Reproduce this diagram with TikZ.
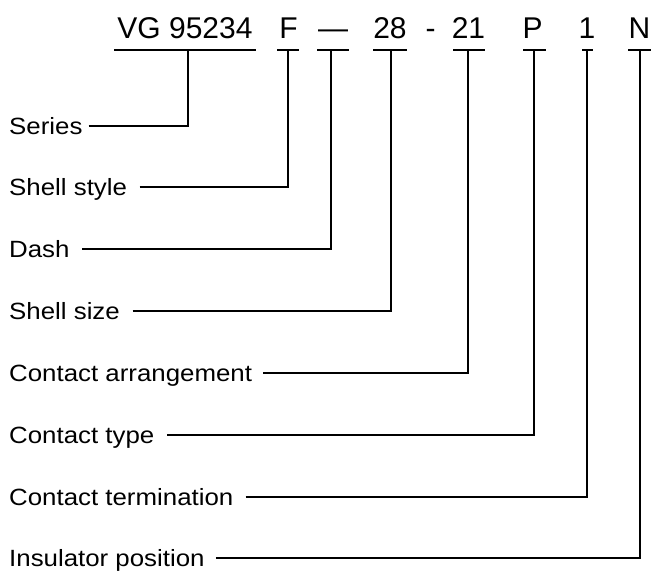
\documentclass[tikz,border=0pt]{standalone}
\usepackage{fontspec}
\setmainfont{Liberation Sans}
\newfontfamily\labfont[FakeStretch=1.1]{Liberation Sans}
\begin{document}
\begin{tikzpicture}[x=1pt,y=-1pt,
  conn/.style={line width=2pt},
  uline/.style={line width=2pt},
  lab/.style={anchor=west, inner sep=0pt, text height=16.8pt, text depth=0pt, font=\labfont\fontsize{23.5}{28}\selectfont},
  code/.style={anchor=base, inner sep=0pt, font=\fontsize{30}{36}\selectfont}]
\useasboundingbox (0,0) rectangle (651,571);
% code parts
\node[code] (vg)   at (185,38.5)   {VG 95234};
\node[code] (f)    at (288.5,38.5) {F};
\node[code] (dash) at (333,38.5)   {\textemdash};
\node[code] (s28)  at (390,38.5)   {28};
\node[code] (hy)   at (430.5,38.5) {-};
\node[code] (s21)  at (468.5,38.5) {21};
\node[code] (p)    at (532.5,38.5) {P};
\node[code] (one)  at (587,38.5)   {1};
\node[code] (n)    at (639.5,38.5) {N};
% underlines
\draw[uline] (114,50) -- (256,50);
\draw[uline] (277,50) -- (299,50);
\draw[uline] (317,50) -- (349,50);
\draw[uline] (373,50) -- (407,50);
\draw[uline] (453,50) -- (485,50);
\draw[uline] (523,50) -- (546,50);
\draw[uline] (582,50) -- (593,50);
\draw[uline] (628,50) -- (651,50);
% connector tops
\coordinate (tvg)   at (188,50);
\coordinate (tf)    at (288,50);
\coordinate (tdash) at (331,50);
\coordinate (t28)   at (391,50);
\coordinate (t21)   at (468,50);
\coordinate (tp)    at (534,50);
\coordinate (tone)  at (587,50);
\coordinate (tn)    at (639.5,50);
% labels
\node[lab] (lseries) at (9,125.7) {Series};
\node[lab] (lstyle)  at (9,187.3) {Shell style};
\node[lab] (ldash)   at (9,249.3) {Dash};
\node[lab] (lsize)   at (9,310.9) {Shell size};
\node[lab] (larr)    at (9,373.3) {Contact arrangement};
\node[lab] (ltype)   at (9,434.9) {Contact type};
\node[lab] (lterm)   at (9,496.6) {Contact termination};
\node[lab] (lins)    at (9,558.1) {Insulator position};
% connectors
\draw[conn] ([xshift=6pt]lseries.east) -| (tvg);
\draw[conn] ([xshift=12.5pt]lstyle.east) -| (tf);
\draw[conn] ([xshift=12.5pt]ldash.east) -| (tdash);
\draw[conn] ([xshift=12.5pt]lsize.east) -| (t28);
\draw[conn] ([xshift=11pt]larr.east) -| (t21);
\draw[conn] ([xshift=12.5pt]ltype.east) -| (tp);
\draw[conn] ([xshift=12pt]lterm.east) -| (tone);
\draw[conn] ([xshift=11pt]lins.east) -| (tn);
\end{tikzpicture}
\end{document}
